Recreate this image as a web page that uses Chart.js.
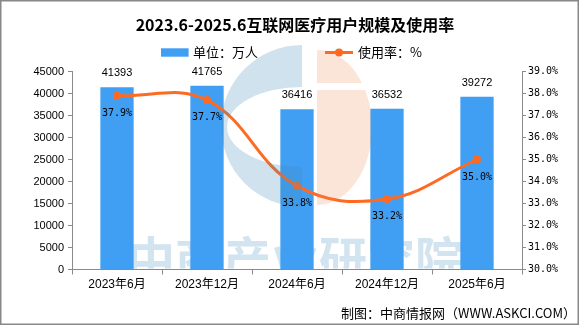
<!DOCTYPE html>
<html>
<head>
<meta charset="utf-8">
<script src="https://cdn.jsdelivr.net/npm/chart.js@4/dist/chart.umd.min.js"></script>
<style>
    html, body { margin: 0; padding: 0; background: #fff; }
    #wrap { position: relative; width: 586px; height: 327px; }
</style>
</head>
<body>
<div id="wrap"><canvas id="chart"></canvas></div>
<script>
// Data
const categories = ['2023年6月', '2023年12月', '2024年6月', '2024年12月', '2025年6月'];
const users = [41393, 41765, 36416, 36532, 39272];
const rates = [37.9, 37.7, 33.8, 33.2, 35.0];
const leftTicks = [0, 5000, 10000, 15000, 20000, 25000, 30000, 35000, 40000, 45000];
const rightTicks = [30, 31, 32, 33, 34, 35, 36, 37, 38, 39];

const barColor = '#409EF3';
const lineColor = '#FF6A22';
const axisColor = '#8a8a8a';
const cjk = '"Noto Sans CJK SC"';

// Watermark, value labels, legend and frame
const decorations = {
    id: 'decorations',
    beforeDatasetsDraw(chart) {
        const { ctx, chartArea: a } = chart;
        ctx.save();
        ctx.beginPath();
        ctx.rect(a.left + 1, a.top, a.right - a.left - 2, a.bottom - a.top - 1);
        ctx.clip();
        ctx.fillStyle = '#D2E4EF';
        ctx.font = 'bold 48px ' + cjk;
        ctx.textAlign = 'center';
        ctx.textBaseline = 'middle';
        ctx.fillText('中商产业研究院', 295, 259);
        ctx.restore();
    },
    afterDatasetsDraw(chart) {
        const ctx = chart.ctx;
        ctx.save();
        // blue "C"
        ctx.fillStyle = 'rgba(67, 139, 183, 0.25)';
        ctx.beginPath();
        ctx.arc(302, 126, 81, Math.PI / 2, Math.PI * 1.5);
        ctx.lineTo(302, 87);
        ctx.ellipse(302, 127, 75, 40, 0, Math.PI * 1.5, Math.PI / 2, true);
        ctx.closePath();
        ctx.fill();
        // peach half disc with a gap
        ctx.beginPath();
        ctx.rect(0, 0, chart.width, 83);
        ctx.rect(0, 90, chart.width, chart.height);
        ctx.clip();
        ctx.fillStyle = 'rgba(235, 135, 83, 0.22)';
        ctx.beginPath();
        ctx.ellipse(317, 127.5, 55, 77.5, 0, -Math.PI / 2, Math.PI / 2);
        ctx.closePath();
        ctx.fill();
        ctx.restore();

        ctx.save();
        ctx.fillStyle = '#000';
        ctx.textAlign = 'center';
        ctx.textBaseline = 'middle';
        ctx.font = '11px "Liberation Sans"';
        chart.getDatasetMeta(0).data.forEach((bar, i) => {
            ctx.fillText(String(users[i]), bar.x, bar.y - 14);
        });
        ctx.font = '10px "DejaVu Sans Mono"';
        chart.getDatasetMeta(1).data.forEach((pt, i) => {
            ctx.fillText(rates[i].toFixed(1) + '%', pt.x, pt.y + 17.5);
        });
        ctx.restore();
    },
    afterDraw(chart) {
        const ctx = chart.ctx;
        const ds = chart.data.datasets;
        ctx.save();
        // legend
        const y = 52.5;
        ctx.fillStyle = barColor;
        ctx.fillRect(161, 48.3, 27.6, 8.4);
        ctx.strokeStyle = lineColor;
        ctx.lineWidth = 3;
        ctx.beginPath();
        ctx.moveTo(325, y);
        ctx.lineTo(353, y);
        ctx.stroke();
        ctx.fillStyle = lineColor;
        ctx.beginPath();
        ctx.arc(339, y, 4, 0, Math.PI * 2);
        ctx.fill();
        ctx.fillStyle = '#000';
        ctx.font = '13px ' + cjk;
        ctx.textAlign = 'left';
        ctx.textBaseline = 'middle';
        ctx.fillText(ds[0].label, 193, y);
        ctx.fillText(ds[1].label, 358, y);
        // outer frame
        ctx.strokeStyle = '#888';
        ctx.lineWidth = 1.5;
        ctx.strokeRect(0.75, 0.75, 577.5, 323.5);
        ctx.restore();
    }
};

new Chart(document.getElementById('chart'), {
    data: {
        labels: categories,
        datasets: [{
            type: 'bar',
            label: '单位：万人',
            data: users,
            yAxisID: 'y',
            backgroundColor: barColor,
            borderWidth: 0,
            barPercentage: 0.37,
            categoryPercentage: 1,
            order: 1
        }, {
            type: 'line',
            label: '使用率：%',
            data: rates,
            yAxisID: 'y1',
            borderColor: lineColor,
            backgroundColor: lineColor,
            borderWidth: 3,
            tension: 0.4,
            fill: false,
            pointRadius: 4,
            pointBackgroundColor: lineColor,
            pointBorderColor: lineColor,
            pointBorderWidth: 0,
            order: 0
        }]
    },
    options: {
        responsive: true,
        maintainAspectRatio: false,
        animation: false,
        layout: {
            padding: { left: 14, right: 10, top: 0, bottom: 0 }
        },
        plugins: {
            legend: { display: false },
            tooltip: { enabled: false },
            title: {
                display: true,
                text: '2023.6-2025.6互联网医疗用户规模及使用率',
                color: '#000',
                font: { family: cjk, size: 16, weight: 'bold', lineHeight: 1.2 },
                padding: { top: 15.4, bottom: 36.9 }
            },
            subtitle: {
                display: true,
                position: 'bottom',
                align: 'end',
                text: '制图：中商情报网（WWW.ASKCI.COM）',
                color: '#000',
                font: { family: cjk, size: 13, lineHeight: 1.2 },
                padding: { top: 13.7, bottom: 6.2 }
            }
        },
        scales: {
            x: {
                grid: { offset: true, drawOnChartArea: false, tickLength: 5, color: axisColor },
                border: { color: axisColor },
                ticks: {
                    color: '#000',
                    padding: 3,
                    maxRotation: 0,
                    autoSkip: false,
                    font: { family: '"Liberation Sans", ' + cjk, size: 12 }
                },
                afterFit(scale) { scale.height = 22; }
            },
            y: {
                position: 'left',
                min: 0,
                max: 45000,
                grid: { drawOnChartArea: false, tickLength: 4, color: axisColor },
                border: { color: axisColor },
                ticks: {
                    color: '#000',
                    padding: 4,
                    font: { family: '"Liberation Sans"', size: 11 },
                    callback: v => String(v)
                },
                afterBuildTicks(scale) { scale.ticks = leftTicks.map(v => ({ value: v })); },
                afterFit(scale) { scale.width = 58; }
            },
            y1: {
                position: 'right',
                min: 30,
                max: 39,
                grid: { drawOnChartArea: false, tickLength: 4, color: axisColor },
                border: { color: axisColor },
                ticks: {
                    color: '#000',
                    padding: 2,
                    font: { family: '"DejaVu Sans Mono"', size: 10 },
                    callback: v => v.toFixed(1) + '%'
                },
                afterBuildTicks(scale) { scale.ticks = rightTicks.map(v => ({ value: v })); },
                afterFit(scale) { scale.width = 54; }
            }
        }
    },
    plugins: [decorations]
});
</script>
</body>
</html>
